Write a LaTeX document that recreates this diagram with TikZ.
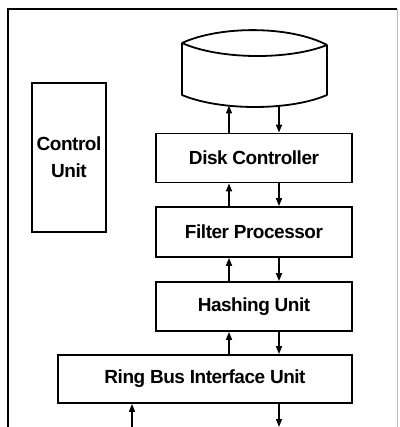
\documentclass[tikz,border=0pt]{standalone}
\usepackage{fontspec}
\setmainfont[LetterSpace=-2.5]{Liberation Sans}
\usetikzlibrary{arrows.meta}
\begin{document}
\begin{tikzpicture}[x=1pt, y=-1pt,
  blk/.style={draw, line width=1.8pt, inner sep=0pt,
    font=\bfseries\fontsize{19}{27}\selectfont, align=center},
  arr/.style={line width=1.6pt, -{Triangle[length=8pt,width=6pt]}},
  frame/.style={line width=1.9pt}]
  \useasboundingbox (0,0) rectangle (399,427);

  % outer enclosure, open at the bottom
  \draw[frame] (8,427) -- (8,9) -- (397,9);
  \draw[line width=0.8pt, gray!55] (397,9) -- (397,427);

  % disk drive
  \draw[line width=1.8pt, line join=round]
    (182,43) .. controls (220,25.5) and (290,25.5) .. (327,45)
    (182,43) .. controls (220,60) and (290,60) .. (327,45)
    (182,43) -- (182,95) .. controls (220,111) and (290,111) .. (327,95) -- (327,45);
  \coordinate (diskup) at (229,105.5);
  \coordinate (diskdn) at (279,105.5);

  % processing pipeline
  \node[blk, minimum width=196pt, minimum height=49pt] (dc) at (254,158) {Disk Controller};
  \node[blk, minimum width=196pt, minimum height=50pt] (fp) at (254,232) {Filter Processor};
  \node[blk, minimum width=196pt, minimum height=49pt] (hu) at (254,306.5) {Hashing Unit};
  \node[blk, minimum width=294pt, minimum height=48pt] (rb) at (205,379) {Ring Bus Interface Unit};
  \node[blk, minimum width=74pt, minimum height=149pt] (cu) at (69,157.5) {Control\\Unit};

  \coordinate (upx) at (229,0);
  \coordinate (dnx) at (279,0);
  \coordinate (ringin) at (132,427);
  \coordinate (ringout) at (279,427);

  % data paths
  \draw[arr] (dc.north -| upx) -- (diskup);
  \draw[arr] (diskdn) -- (dc.north -| dnx);
  \draw[arr] (fp.north -| upx) -- (dc.south -| upx);
  \draw[arr] (dc.south -| dnx) -- (fp.north -| dnx);
  \draw[arr] (hu.north -| upx) -- (fp.south -| upx);
  \draw[arr] (fp.south -| dnx) -- (hu.north -| dnx);
  \draw[arr] (rb.north -| upx) -- (hu.south -| upx);
  \draw[arr] (hu.south -| dnx) -- (rb.north -| dnx);
  \draw[arr] (ringin) -- (rb.south -| ringin);
  \draw[arr] (rb.south -| ringout) -- (ringout);
\end{tikzpicture}
\end{document}
